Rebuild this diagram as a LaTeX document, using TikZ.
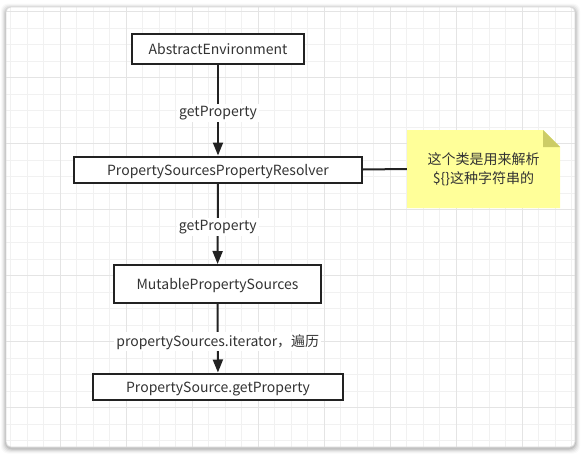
\documentclass[tikz,border=0pt]{standalone}
\usepackage{fontspec}
\setmainfont{Noto Sans CJK SC}
\usetikzlibrary{arrows.meta}
\definecolor{gridminor}{HTML}{F1F1F1}
\definecolor{gridmajor}{HTML}{E4E4E4}
\definecolor{ink}{HTML}{222222}
\definecolor{txt}{HTML}{333333}
\definecolor{notefill}{HTML}{FFFF99}
\definecolor{notefold}{HTML}{CCCC66}
\definecolor{framecol}{HTML}{DADADA}
\tikzset{
  box/.style={draw=ink, line width=2pt, fill=white, text=txt, inner sep=0pt,
    text height=12.5pt, text depth=1.5pt,
    font=\fontsize{14}{17}\selectfont},
  conn/.style={draw=ink, line width=2pt, -{Triangle[length=13pt,width=10pt]}},
  plain/.style={draw=ink, line width=2pt},
  lbl/.style={fill=white, text=txt, inner sep=2pt, font=\fontsize{14}{17}\selectfont},
  notetext/.style={text=txt, align=center, inner sep=0pt,
    font=\fontsize{14}{19}\selectfont, minimum width=153pt, minimum height=78pt},
}
\begin{document}
\begin{tikzpicture}[x=1pt,y=-1pt]
\useasboundingbox (0,0) rectangle (582,455);
% frame shadow
\foreach \d/\o in {5/0.025,4/0.035,3/0.05,2/0.07,1/0.09}
  \fill[black,opacity=\o,rounded corners=7] (6-\d,7-\d+1.5) rectangle (575+\d,447+\d+1.5);
\fill[white,rounded corners=5] (6,7) rectangle (575,447);
% grid
\begin{scope}
\clip[rounded corners=5] (6,7) rectangle (575,447);
\foreach \i in {0,...,34}
  \draw[gridminor,line width=1pt] ({10.5+16.5*\i},7) -- ++(0,440);
\foreach \i in {0,...,26}
  \draw[gridminor,line width=1pt] (6,{11.7+16.5*\i}) -- ++(569,0);
\foreach \i in {0,...,7}
  \draw[gridmajor,line width=1pt] ({60+66*\i},7) -- ++(0,440);
\foreach \i in {0,...,6}
  \draw[gridmajor,line width=1pt] (6,{11.7+66*\i}) -- ++(569,0);
\end{scope}
\draw[framecol,line width=0.8pt,rounded corners=5] (6,7) rectangle (575,447);
% note shape
\fill[notefill] (407,130) -- (543,130) -- (560,147) -- (560,208) -- (407,208) -- cycle;
\fill[notefold] (543,130) -- (560,147) -- (543,147) -- cycle;
% nodes
\node[box, minimum width=172pt, minimum height=30pt] (ae) at (218,49) {AbstractEnvironment};
\node[box, minimum width=288pt, minimum height=26pt] (res) at (218,169.5) {PropertySourcesPropertyResolver};
\node[box, minimum width=207pt, minimum height=38pt] (mps) at (217.5,284) {MutablePropertySources};
\node[box, minimum width=250pt, minimum height=26pt] (ps) at (218,386.5) {PropertySource.getProperty};
\node[notetext] (note) at (483.5,169) {这个类是用来解析\\\$\{\}这种字符串的};
% connectors
\draw[conn] (ae) -- node[lbl, yshift=-3pt] {getProperty} (res);
\draw[conn] (res) -- node[lbl, yshift=-3pt] {getProperty} (mps);
\draw[conn] (mps) -- node[lbl, yshift=-3.5pt] {propertySources.iterator，遍历} (ps);
\draw[plain] (res.east) -- (note.west);
\end{tikzpicture}
\end{document}
